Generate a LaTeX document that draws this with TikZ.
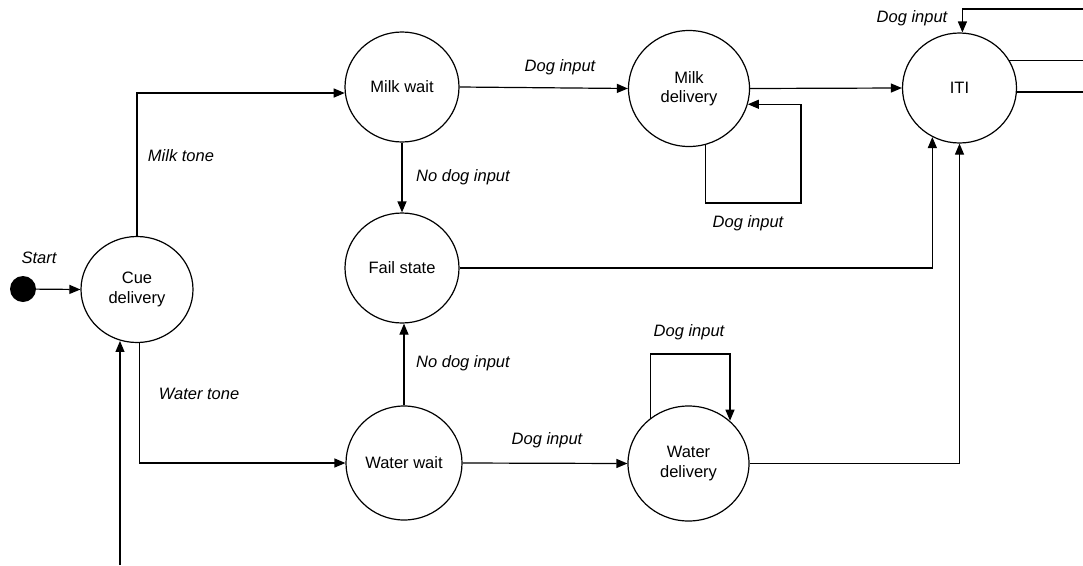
\documentclass[tikz,border=0pt]{standalone}
\usepackage{fontspec}
\setmainfont{Liberation Sans}
\usetikzlibrary{arrows.meta,shapes.geometric}
\begin{document}
\begin{tikzpicture}[x=1pt,y=-1pt,
  every node/.style={font=\fontsize{16.5}{19.5}\selectfont},
  stnode/.style={draw,ellipse,line width=1.2pt,inner sep=0pt,minimum width=114pt,minimum height=110pt,align=center},
  bignode/.style={stnode,minimum width=121pt,minimum height=116pt},
  lbl/.style={font=\fontsize{16.5}{19.5}\selectfont\itshape,inner sep=0pt},
  conn/.style={line width=1.2pt},
  arr/.style={conn,-{Triangle[length=11pt,width=9pt]}}]
\useasboundingbox (0,0) rectangle (1083,565);
% nodes
\node[circle,fill=black,inner sep=0pt,minimum size=26pt] (start) at (23,289) {};
\node[stnode,minimum width=112pt,minimum height=106pt] (cue) at (137,289.5) {Cue\\delivery};
\node[stnode] (mwait) at (402,87) {Milk wait};
\node[stnode] (fail) at (402,268) {Fail state};
\node[stnode,minimum width=116pt,minimum height=114pt] (wwait) at (404,463) {Water wait};
\node[bignode] (mdel) at (689,88.5) {Milk\\delivery};
\node[bignode,minimum height=115pt] (wdel) at (688.5,463.5) {Water\\delivery};
\node[stnode] (iti) at (959.5,88) {ITI};
% free ends
\coordinate (bin) at (120,565);
\coordinate (ml) at (801,203);
\coordinate (wl) at (730,354);
\coordinate (itop) at (1083,9);
\coordinate (iright) at (1083,0);
% connectors
\draw[arr] (start) -- (cue.west);
\draw[arr] (cue.north) |- (mwait.186);
\draw[arr] (cue.273) |- (wwait.west);
\draw[arr] (bin) -- (bin |- cue.253);
\draw[arr] (mwait.east) -- (mdel.west);
\draw[arr] (mwait.south) -- (fail.north);
\draw[arr] (wwait.north) -- (wwait.north |- fail.south);
\draw[arr] (wwait.east) -- (wdel.west);
\draw[arr] (mdel.east) -- (iti.west);
\draw[arr] (mdel.286) |- (ml) |- (mdel.345);
\draw[arr] (wdel.130) |- (wl) -- (wl |- wdel.46);
\draw[arr] (fail.east) -| (iti.241);
\draw[arr] (wdel.east) -| (iti.south);
\draw[arr] (itop) -| (iti.87);
\draw[conn] (iti.29) -- (iti.29 -| iright);
\draw[conn] (iti.356) -- (iti.356 -| iright);
% labels
\node[lbl] (l1) at (39,258) {Start};
\node[lbl] (l2) at (181,156) {Milk tone};
\node[lbl] (l3) at (199,394) {Water tone};
\node[lbl] (l4) at (560,67) {Dog input};
\node[lbl] (l5) at (463,177) {No dog input};
\node[lbl] (l6) at (463,363) {No dog input};
\node[lbl] (l7) at (547,440) {Dog input};
\node[lbl] (l8) at (689,332) {Dog input};
\node[lbl] (l9) at (748,223) {Dog input};
\node[lbl] (l10) at (912,18) {Dog input};
\end{tikzpicture}
\end{document}
